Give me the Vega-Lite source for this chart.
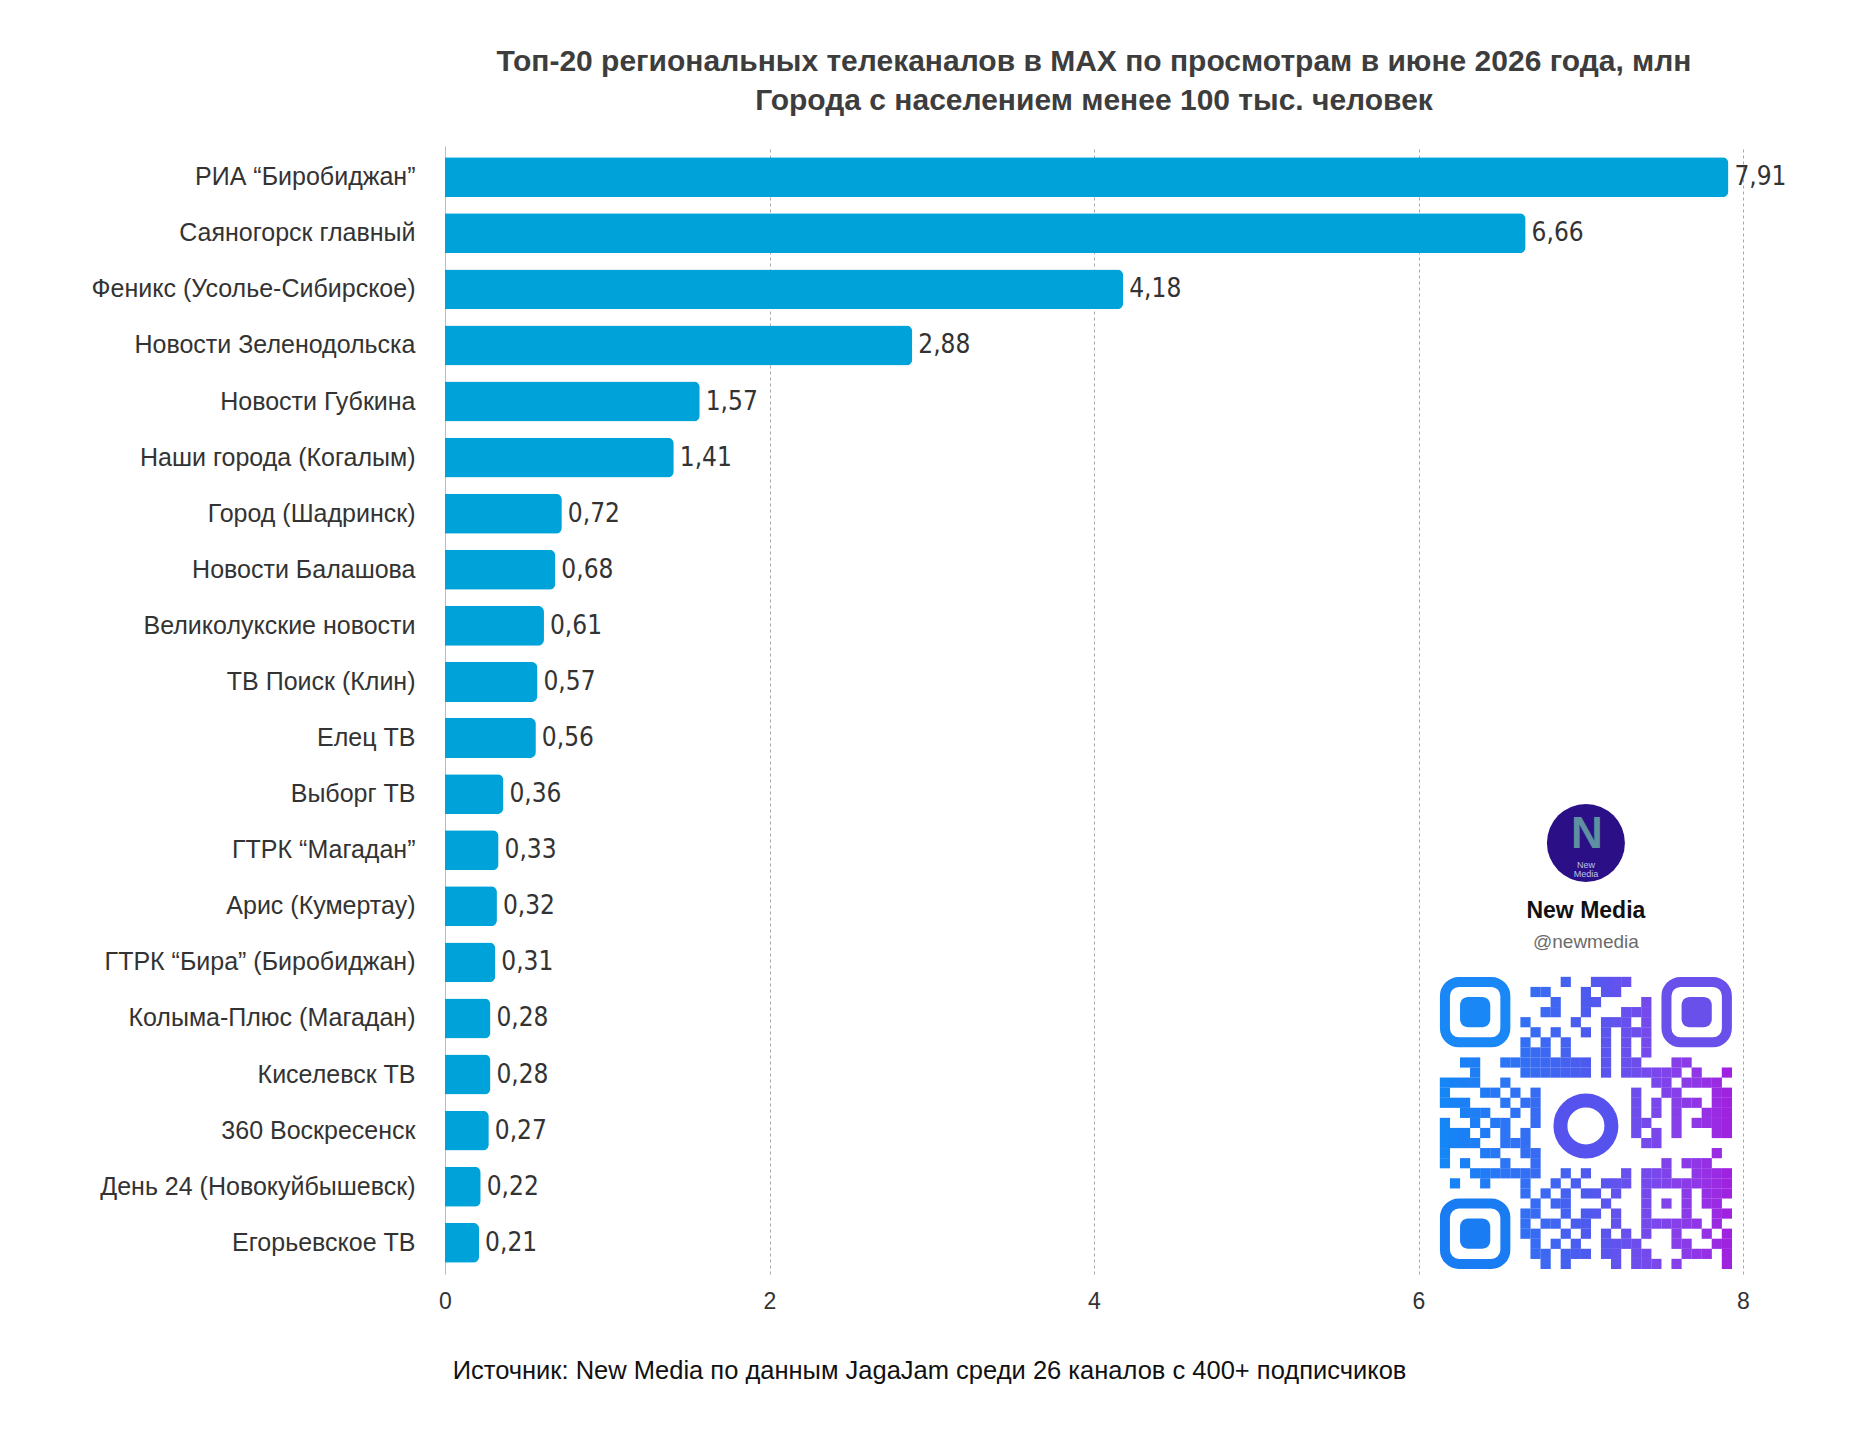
{
  "$schema": "https://vega.github.io/schema/vega-lite/v6.json",
  "description": "Top-20 regional TV channels in MAX by views, June 2026",
  "width": 1298,
  "height": 1128,
  "autosize": {"type": "none"},
  "padding": {"left": 445, "top": 146, "right": 115, "bottom": 176},
  "background": "white",
  "config": {
    "view": {"stroke": null},
    "locale": {"number": {"decimal": ",", "thousands": " ", "grouping": [3], "currency": ["", ""]}}
  },
  "title": {
    "text": ["Топ-20 региональных телеканалов в МАХ по просмотрам в июне 2026 года, млн", "Города с населением менее 100 тыс. человек"],
    "font": "Liberation Sans",
    "fontSize": 30,
    "fontWeight": "bold",
    "color": "#3d3d3d",
    "anchor": "middle",
    "lineHeight": 39,
    "offset": 30
  },
  "datasets": {
    "channels": [
      {"channel": "РИА “Биробиджан”", "views": 7.91},
      {"channel": "Саяногорск главный", "views": 6.66},
      {"channel": "Феникс (Усолье-Сибирское)", "views": 4.18},
      {"channel": "Новости Зеленодольска", "views": 2.88},
      {"channel": "Новости Губкина", "views": 1.57},
      {"channel": "Наши города (Когалым)", "views": 1.41},
      {"channel": "Город (Шадринск)", "views": 0.72},
      {"channel": "Новости Балашова", "views": 0.68},
      {"channel": "Великолукские новости", "views": 0.61},
      {"channel": "ТВ Поиск (Клин)", "views": 0.57},
      {"channel": "Елец ТВ", "views": 0.56},
      {"channel": "Выборг ТВ", "views": 0.36},
      {"channel": "ГТРК “Магадан”", "views": 0.33},
      {"channel": "Арис (Кумертау)", "views": 0.32},
      {"channel": "ГТРК “Бира” (Биробиджан)", "views": 0.31},
      {"channel": "Колыма-Плюс (Магадан)", "views": 0.28},
      {"channel": "Киселевск ТВ", "views": 0.28},
      {"channel": "360 Воскресенск", "views": 0.27},
      {"channel": "День 24 (Новокуйбышевск)", "views": 0.22},
      {"channel": "Егорьевское ТВ", "views": 0.21}
    ],
    "qr": [
      {"c":12,"r":0},{"c":15,"r":0},{"c":16,"r":0},{"c":17,"r":0},{"c":18,"r":0},
      {"c":9,"r":1},{"c":10,"r":1},{"c":14,"r":1},{"c":16,"r":1},{"c":17,"r":1},
      {"c":11,"r":2},{"c":14,"r":2},{"c":15,"r":2},{"c":20,"r":2},
      {"c":10,"r":3},{"c":11,"r":3},{"c":14,"r":3},{"c":18,"r":3},{"c":19,"r":3},{"c":20,"r":3},
      {"c":8,"r":4},{"c":13,"r":4},{"c":16,"r":4},{"c":17,"r":4},{"c":18,"r":4},{"c":20,"r":4},
      {"c":9,"r":5},{"c":11,"r":5},{"c":14,"r":5},{"c":16,"r":5},{"c":18,"r":5},{"c":19,"r":5},{"c":20,"r":5},
      {"c":8,"r":6},{"c":10,"r":6},{"c":12,"r":6},{"c":16,"r":6},{"c":18,"r":6},{"c":20,"r":6},
      {"c":8,"r":7},{"c":9,"r":7},{"c":10,"r":7},{"c":12,"r":7},{"c":16,"r":7},{"c":18,"r":7},{"c":20,"r":7},
      {"c":2,"r":8},{"c":3,"r":8},{"c":6,"r":8},{"c":7,"r":8},{"c":8,"r":8},{"c":9,"r":8},{"c":10,"r":8},{"c":11,"r":8},{"c":12,"r":8},{"c":13,"r":8},{"c":14,"r":8},{"c":16,"r":8},{"c":18,"r":8},{"c":19,"r":8},{"c":23,"r":8},{"c":24,"r":8},
      {"c":3,"r":9},{"c":8,"r":9},{"c":9,"r":9},{"c":10,"r":9},{"c":11,"r":9},{"c":12,"r":9},{"c":13,"r":9},{"c":14,"r":9},{"c":16,"r":9},{"c":18,"r":9},{"c":19,"r":9},{"c":20,"r":9},{"c":21,"r":9},{"c":22,"r":9},{"c":23,"r":9},{"c":25,"r":9},{"c":28,"r":9},
      {"c":0,"r":10},{"c":1,"r":10},{"c":2,"r":10},{"c":3,"r":10},{"c":6,"r":10},{"c":21,"r":10},{"c":22,"r":10},{"c":24,"r":10},{"c":25,"r":10},{"c":26,"r":10},{"c":27,"r":10},
      {"c":0,"r":11},{"c":4,"r":11},{"c":5,"r":11},{"c":7,"r":11},{"c":9,"r":11},{"c":19,"r":11},{"c":22,"r":11},{"c":23,"r":11},{"c":27,"r":11},{"c":28,"r":11},
      {"c":0,"r":12},{"c":1,"r":12},{"c":2,"r":12},{"c":6,"r":12},{"c":8,"r":12},{"c":9,"r":12},{"c":19,"r":12},{"c":21,"r":12},{"c":23,"r":12},{"c":24,"r":12},{"c":25,"r":12},{"c":27,"r":12},{"c":28,"r":12},
      {"c":2,"r":13},{"c":3,"r":13},{"c":4,"r":13},{"c":7,"r":13},{"c":9,"r":13},{"c":19,"r":13},{"c":21,"r":13},{"c":23,"r":13},{"c":26,"r":13},{"c":27,"r":13},{"c":28,"r":13},
      {"c":0,"r":14},{"c":3,"r":14},{"c":5,"r":14},{"c":6,"r":14},{"c":9,"r":14},{"c":19,"r":14},{"c":20,"r":14},{"c":23,"r":14},{"c":25,"r":14},{"c":26,"r":14},{"c":27,"r":14},{"c":28,"r":14},
      {"c":0,"r":15},{"c":1,"r":15},{"c":2,"r":15},{"c":4,"r":15},{"c":6,"r":15},{"c":8,"r":15},{"c":19,"r":15},{"c":21,"r":15},{"c":23,"r":15},{"c":27,"r":15},{"c":28,"r":15},
      {"c":0,"r":16},{"c":1,"r":16},{"c":2,"r":16},{"c":3,"r":16},{"c":6,"r":16},{"c":7,"r":16},{"c":8,"r":16},{"c":20,"r":16},{"c":21,"r":16},
      {"c":0,"r":17},{"c":4,"r":17},{"c":5,"r":17},{"c":8,"r":17},{"c":9,"r":17},{"c":27,"r":17},
      {"c":0,"r":18},{"c":2,"r":18},{"c":6,"r":18},{"c":9,"r":18},{"c":22,"r":18},{"c":24,"r":18},{"c":25,"r":18},{"c":26,"r":18},
      {"c":3,"r":19},{"c":4,"r":19},{"c":5,"r":19},{"c":6,"r":19},{"c":7,"r":19},{"c":8,"r":19},{"c":9,"r":19},{"c":12,"r":19},{"c":14,"r":19},{"c":18,"r":19},{"c":20,"r":19},{"c":21,"r":19},{"c":22,"r":19},{"c":25,"r":19},{"c":26,"r":19},{"c":27,"r":19},{"c":28,"r":19},
      {"c":1,"r":20},{"c":4,"r":20},{"c":8,"r":20},{"c":11,"r":20},{"c":13,"r":20},{"c":16,"r":20},{"c":17,"r":20},{"c":18,"r":20},{"c":20,"r":20},{"c":21,"r":20},{"c":22,"r":20},{"c":23,"r":20},{"c":24,"r":20},{"c":25,"r":20},{"c":26,"r":20},{"c":27,"r":20},{"c":28,"r":20},
      {"c":8,"r":21},{"c":10,"r":21},{"c":12,"r":21},{"c":14,"r":21},{"c":15,"r":21},{"c":17,"r":21},{"c":20,"r":21},{"c":24,"r":21},{"c":26,"r":21},{"c":27,"r":21},{"c":28,"r":21},
      {"c":9,"r":22},{"c":11,"r":22},{"c":12,"r":22},{"c":16,"r":22},{"c":20,"r":22},{"c":22,"r":22},{"c":24,"r":22},{"c":26,"r":22},{"c":27,"r":22},
      {"c":8,"r":23},{"c":9,"r":23},{"c":12,"r":23},{"c":14,"r":23},{"c":15,"r":23},{"c":17,"r":23},{"c":20,"r":23},{"c":24,"r":23},{"c":27,"r":23},{"c":28,"r":23},
      {"c":8,"r":24},{"c":10,"r":24},{"c":11,"r":24},{"c":13,"r":24},{"c":14,"r":24},{"c":17,"r":24},{"c":20,"r":24},{"c":21,"r":24},{"c":22,"r":24},{"c":23,"r":24},{"c":24,"r":24},{"c":25,"r":24},{"c":27,"r":24},
      {"c":8,"r":25},{"c":9,"r":25},{"c":12,"r":25},{"c":14,"r":25},{"c":16,"r":25},{"c":18,"r":25},{"c":20,"r":25},{"c":23,"r":25},{"c":26,"r":25},{"c":28,"r":25},
      {"c":9,"r":26},{"c":11,"r":26},{"c":13,"r":26},{"c":16,"r":26},{"c":17,"r":26},{"c":18,"r":26},{"c":19,"r":26},{"c":23,"r":26},{"c":24,"r":26},{"c":27,"r":26},{"c":28,"r":26},
      {"c":9,"r":27},{"c":10,"r":27},{"c":12,"r":27},{"c":13,"r":27},{"c":14,"r":27},{"c":16,"r":27},{"c":17,"r":27},{"c":19,"r":27},{"c":20,"r":27},{"c":24,"r":27},{"c":25,"r":27},{"c":26,"r":27},{"c":28,"r":27},
      {"c":10,"r":28},{"c":12,"r":28},{"c":17,"r":28},{"c":19,"r":28},{"c":20,"r":28},{"c":21,"r":28},{"c":23,"r":28},{"c":28,"r":28}
    ],
    "finders": [
      {"part": "ring", "corner": "tl", "x1": 0, "x2": 6, "y1": 0, "y2": 6},
      {"part": "ring", "corner": "tr", "x1": 22, "x2": 28, "y1": 0, "y2": 6},
      {"part": "ring", "corner": "bl", "x1": 0, "x2": 6, "y1": 22, "y2": 28},
      {"part": "inner", "corner": "tl", "x1": 1.5, "x2": 4.5, "y1": 1.5, "y2": 4.5},
      {"part": "inner", "corner": "tr", "x1": 23.5, "x2": 26.5, "y1": 1.5, "y2": 4.5},
      {"part": "inner", "corner": "bl", "x1": 1.5, "x2": 4.5, "y1": 23.5, "y2": 26.5}
    ],
    "brand": [
      {"part": "logo", "c": 14, "r": -13.8, "label": ""},
      {"part": "mark", "c": 14.1, "r": -14.6, "label": "N"},
      {"part": "tiny", "c": 14, "r": -11.6, "label": "New Media"},
      {"part": "name", "c": 14, "r": -7.0, "label": "New Media"},
      {"part": "handle", "c": 14, "r": -4.0, "label": "@newmedia"},
      {"part": "bubble", "c": 14, "r": 14.3, "label": ""}
    ]
  },
  "layer": [
    {
      "data": {"name": "channels"},
      "encoding": {
        "y": {
          "field": "channel",
          "type": "nominal",
          "sort": null,
          "scale": {"paddingInner": 0.287, "paddingOuter": 0.2},
          "axis": {
            "title": null,
            "domain": true,
            "domainColor": "#bdbdbd",
            "ticks": false,
            "labelPadding": 30,
            "labelFont": "Liberation Sans",
            "labelFontSize": 25,
            "labelColor": "#333333",
            "labelLimit": 500
          }
        },
        "x": {
          "field": "views",
          "type": "quantitative",
          "scale": {"domain": [0, 8], "nice": false},
          "axis": {
            "values": [0, 2, 4, 6, 8],
            "format": "d",
            "grid": true,
            "gridDash": [3, 3],
            "gridColor": "#a8a8a8",
            "domain": false,
            "ticks": false,
            "labelFlush": false,
            "labelPadding": 16,
            "labelFont": "Liberation Sans",
            "labelFontSize": 23,
            "labelColor": "#333333",
            "title": "Источник: New Media по данным JagaJam среди 26 каналов с 400+ подписчиков",
            "titleFont": "Liberation Sans",
            "titleFontSize": 25.5,
            "titleFontWeight": "normal",
            "titleColor": "#111111",
            "titleX": 484,
            "titleY": 96,
            "titleAlign": "center",
            "titleBaseline": "middle"
          }
        }
      },
      "layer": [
        {"mark": {"type": "bar", "color": "#00a3d9", "cornerRadiusEnd": 6}},
        {
          "mark": {
            "type": "text",
            "align": "left",
            "baseline": "middle",
            "dx": 6,
            "font": "Liberation Sans Narrow, DejaVu Sans Condensed, sans-serif",
            "fontSize": 26,
            "color": "#333333"
          },
          "encoding": {"text": {"field": "views", "type": "quantitative", "format": ".2f"}}
        }
      ]
    },
    {
      "encoding": {
        "x": {"type": "quantitative", "scale": {"domain": [-99.3, 29.6], "nice": false, "zero": false}, "axis": null},
        "y": {"type": "quantitative", "scale": {"domain": [-83.0, 29.0], "nice": false, "zero": false, "reverse": true}, "axis": null}
      },
      "layer": [
        {
          "data": {"name": "qr"},
          "mark": {"type": "point", "shape": "square", "filled": true, "size": 104, "opacity": 1},
          "encoding": {
            "x": {"field": "c", "type": "quantitative"},
            "y": {"field": "r", "type": "quantitative"},
            "color": {
              "field": "c",
              "type": "quantitative",
              "scale": {"domain": [0, 14, 28], "range": ["#1586f6", "#4d5aef", "#a022e1"]},
              "legend": null
            }
          }
        },
        {
          "data": {"name": "finders"},
          "transform": [{"filter": "datum.part === 'ring'"}],
          "mark": {"type": "rect", "filled": false, "strokeWidth": 10, "cornerRadius": 14},
          "encoding": {
            "x": {"field": "x1", "type": "quantitative"},
            "x2": {"field": "x2"},
            "y": {"field": "y1", "type": "quantitative"},
            "y2": {"field": "y2"},
            "stroke": {
              "field": "corner",
              "type": "nominal",
              "scale": {"domain": ["tl", "tr", "bl"], "range": ["#1987f6", "#6a50ea", "#1a7cf2"]},
              "legend": null
            }
          }
        },
        {
          "data": {"name": "finders"},
          "transform": [{"filter": "datum.part === 'inner'"}],
          "mark": {"type": "rect", "cornerRadius": 8},
          "encoding": {
            "x": {"field": "x1", "type": "quantitative"},
            "x2": {"field": "x2"},
            "y": {"field": "y1", "type": "quantitative"},
            "y2": {"field": "y2"},
            "fill": {
              "field": "corner",
              "type": "nominal",
              "scale": {"domain": ["tl", "tr", "bl"], "range": ["#1987f6", "#6a50ea", "#1a7cf2"]},
              "legend": null
            }
          }
        },
        {
          "data": {"name": "brand"},
          "transform": [{"filter": "datum.part === 'bubble'"}],
          "mark": {"type": "point", "shape": "circle", "filled": false, "size": 2600, "strokeWidth": 14, "color": "#5652ee", "opacity": 1},
          "encoding": {
            "x": {"field": "c", "type": "quantitative"},
            "y": {"field": "r", "type": "quantitative"}
          }
        },
        {
          "data": {"name": "brand"},
          "transform": [{"filter": "datum.part === 'logo'"}],
          "mark": {"type": "point", "shape": "circle", "filled": true, "size": 6084, "color": "#2b0f86", "opacity": 1},
          "encoding": {
            "x": {"field": "c", "type": "quantitative"},
            "y": {"field": "r", "type": "quantitative"}
          }
        },
        {
          "data": {"name": "brand"},
          "transform": [{"filter": "datum.part === 'mark'"}],
          "mark": {"type": "text", "font": "Liberation Sans", "fontSize": 44, "fontWeight": "bold", "color": "#5f8fa0", "baseline": "middle", "align": "center"},
          "encoding": {
            "x": {"field": "c", "type": "quantitative"},
            "y": {"field": "r", "type": "quantitative"},
            "text": {"field": "label"}
          }
        },
        {
          "data": {"name": "brand"},
          "transform": [{"filter": "datum.part === 'tiny'"}],
          "mark": {"type": "text", "font": "Liberation Sans", "fontSize": 9, "lineBreak": " ", "lineHeight": 9, "color": "#b9c4e6", "baseline": "middle", "align": "center"},
          "encoding": {
            "x": {"field": "c", "type": "quantitative"},
            "y": {"field": "r", "type": "quantitative"},
            "text": {"field": "label"}
          }
        },
        {
          "data": {"name": "brand"},
          "transform": [{"filter": "datum.part === 'name'"}],
          "mark": {"type": "text", "font": "Liberation Sans", "fontSize": 23, "fontWeight": "bold", "color": "#111111", "baseline": "middle", "align": "center"},
          "encoding": {
            "x": {"field": "c", "type": "quantitative"},
            "y": {"field": "r", "type": "quantitative"},
            "text": {"field": "label"}
          }
        },
        {
          "data": {"name": "brand"},
          "transform": [{"filter": "datum.part === 'handle'"}],
          "mark": {"type": "text", "font": "Liberation Sans", "fontSize": 19, "color": "#6b6b6b", "baseline": "middle", "align": "center"},
          "encoding": {
            "x": {"field": "c", "type": "quantitative"},
            "y": {"field": "r", "type": "quantitative"},
            "text": {"field": "label"}
          }
        }
      ]
    }
  ],
  "resolve": {"scale": {"x": "independent", "y": "independent", "color": "independent", "fill": "independent", "stroke": "independent"}}
}
